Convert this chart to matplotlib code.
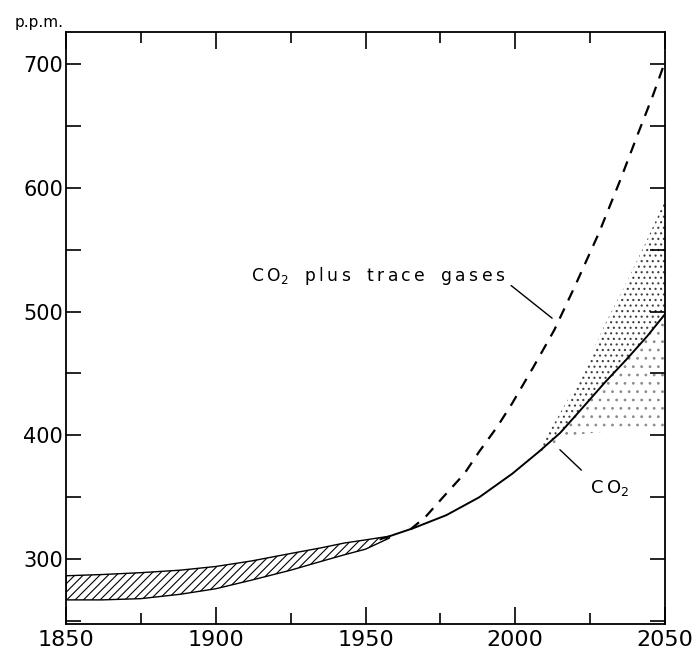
import numpy as np
import matplotlib
matplotlib.use("Agg")
import matplotlib.pyplot as plt
from matplotlib.ticker import MultipleLocator

# hatched band of the historical range
band_years = [1850, 1862, 1875, 1888, 1900, 1912, 1925, 1935, 1943, 1950, 1958]
band_upper = [286.5, 287.5, 289, 291, 294, 298.5, 304.5, 309, 313, 315.5, 318.5]
band_lower = [267, 267, 268, 271.5, 276, 283, 291, 298, 303.5, 308, 317]

# CO2 only
co2_years = [1955, 1966, 1977, 1988, 1999, 2008, 2015, 2022, 2030, 2037, 2044, 2050]
co2_ppm = [316, 325, 335.5, 350, 369, 387, 402, 421, 443, 461, 480, 498]

# CO2 plus trace gases
trace_years = [1965, 1970, 1977, 1983, 1988, 1994, 1999, 2006, 2013, 2020, 2028,
               2035, 2041, 2046, 2050]
trace_ppm = [324, 334, 353, 369, 387, 407, 426, 455, 485, 521, 564,
             606, 644, 675, 702]

# stippled uncertainty range (years shared with the tail of co2)
stip_upper = [389, 418, 448, 490, 523, 558, 590]
stip_lower = [386, 396, 401, 403, 404, 404, 405]

x_labels = ["1850", "1900", "1950", "2000", "2050"]
y_labels = ["300", "400", "500", "600", "700"]

plt.rcParams['font.family'] = 'DejaVu Sans'
plt.rcParams['hatch.linewidth'] = 0.8

fig = plt.figure(figsize=(6.99, 6.55), dpi=100)
ax = fig.add_axes([0.0944, 0.0473, 0.857, 0.9038])

ax.fill_between(band_years, band_lower, band_upper, facecolor='white',
                edgecolor='black', hatch='////', linewidth=1.0, zorder=2)

stip_years = co2_years[5:]
stip_mid = co2_ppm[5:]
ax.fill_between(stip_years, stip_mid, stip_upper, facecolor='none',
                edgecolor='0.25', hatch='...', linewidth=0, zorder=1)
ax.fill_between(stip_years, stip_lower, stip_mid, facecolor='none',
                edgecolor='0.55', hatch='..', linewidth=0, zorder=1)

ax.plot(co2_years, co2_ppm, color='black', lw=1.4, zorder=3)
ax.plot(trace_years, trace_ppm, color='black', lw=1.6, ls=(0, (5, 4)), zorder=3)

# annotations (letter-spaced like the original lettering)
ts = "\u2009"
lab_trace = ("C" + ts + "O$_2$   " + ts.join("plus") + "   " + ts.join("trace")
             + "   " + ts.join("gases"))
ax.annotate(lab_trace, xy=(2012.3, 494.7), xytext=(1996.6, 524.5),
            ha='right', va='baseline', fontsize=12.3,
            arrowprops=dict(arrowstyle='-', color='black', lw=1.0,
                            relpos=(1, 0.3), shrinkA=3, shrinkB=0))
ax.annotate("C" + ts + "O$_2$", xy=(2014.9, 388.4), xytext=(2025, 353),
            ha='left', va='baseline', fontsize=13,
            arrowprops=dict(arrowstyle='-', color='black', lw=1.0,
                            relpos=(0, 1), shrinkA=6, shrinkB=0))

ax.set_xlim(1850, 2050)
ax.set_ylim(247.5, 726)

ax.set_xticks([int(v) for v in x_labels])
ax.set_xticklabels(x_labels, fontsize=16)
ax.xaxis.set_minor_locator(MultipleLocator(25))
ax.set_yticks([int(v) for v in y_labels])
ax.set_yticklabels(y_labels, fontsize=15)
ax.yaxis.set_minor_locator(MultipleLocator(50))

ax.tick_params(axis='x', which='major', direction='in', length=12, width=1.2,
               top=True, bottom=True, pad=4)
ax.tick_params(axis='x', which='minor', direction='in', length=8, width=1.2,
               top=True, bottom=True)
ax.tick_params(axis='y', which='both', direction='in', length=11, width=1.2,
               left=True, right=True, pad=2)

for s in ax.spines.values():
    s.set_linewidth(1.3)

fig.text(0.021, 0.965, "p.p.m.", fontsize=11, ha='left', va='center')

fig.savefig("out.png", dpi=100)
